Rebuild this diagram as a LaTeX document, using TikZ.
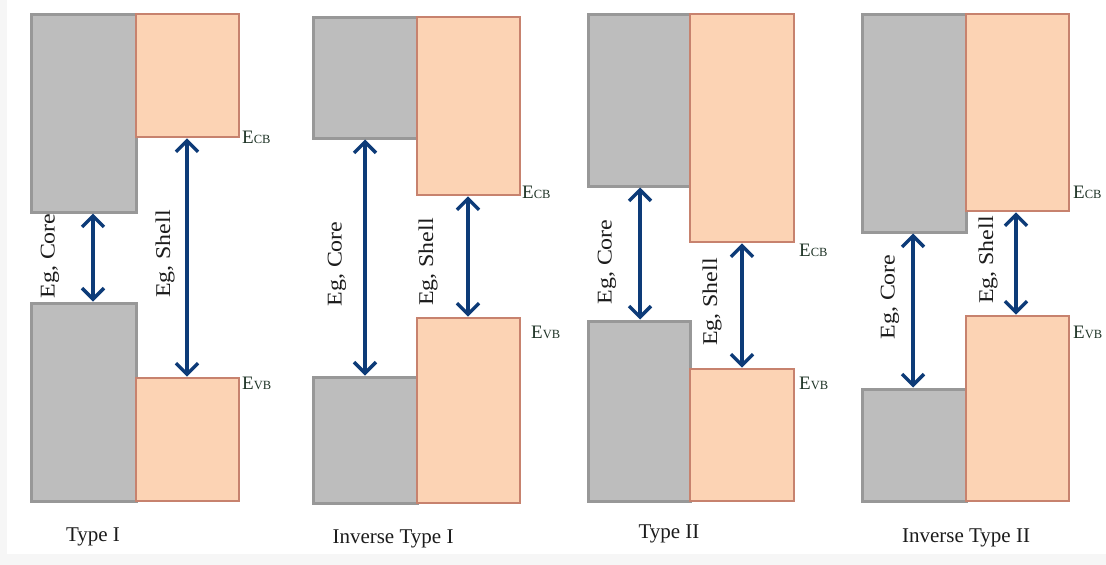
\documentclass[tikz,border=0pt]{standalone}
\usepackage{fontspec}
\setmainfont{Liberation Serif}
\usetikzlibrary{arrows.meta,fit}

\definecolor{coregray}{HTML}{BDBDBD}
\definecolor{coreedge}{HTML}{989898}
\definecolor{shellfill}{HTML}{FCD3B4}
\definecolor{shelledge}{HTML}{C7826E}
\definecolor{gaparrow}{HTML}{0D3B78}
\definecolor{textdark}{HTML}{1C1C1C}
\definecolor{leveltext}{HTML}{1E3326}

\tikzset{
  corebox/.style={draw=coreedge, fill=coregray, line width=3pt, inner sep=0pt},
  shellbox/.style={draw=shelledge, fill=shellfill, line width=2.8pt, inner sep=0pt},
  gap/.style={draw=gaparrow, line width=3.4pt,
    {Straight Barb[length=11pt,width=22pt,line width=3.4pt]}-{Straight Barb[length=11pt,width=22pt,line width=3.4pt]}},
  gaplabel/.style={rotate=90, text=textdark, inner sep=0pt,
    font=\fontsize{21}{23}\selectfont},
  level/.style={anchor=base west, text=leveltext, inner sep=0pt,
    font=\fontsize{19}{21}\selectfont},
  typelabel/.style={anchor=base, text=textdark, inner sep=0pt,
    font=\fontsize{21}{24}\selectfont}
}
\newcommand{\lvl}[1]{E{\fontsize{12.5}{14}\selectfont #1}}
\newcommand{\stretched}[1]{\scalebox{1.14}[1]{#1}}

\begin{document}
\begin{tikzpicture}[x=1pt,y=-1pt]
  \useasboundingbox (0,0) rectangle (1106,565);
  \fill[gray!7] (0,0) rectangle (1106,565);
  \fill[white] (7,0) rectangle (1106,554);

  % ---- Type I ----
  \node[corebox, fit={(31,14) (136,212)}] (c1t) {};
  \node[corebox, fit={(31,303) (136,501)}] (c1b) {};
  \node[shellbox, fit={(136,14) (239,137)}] (s1t) {};
  \node[shellbox, fit={(136,378) (239,501)}] (s1b) {};
  \coordinate (k1) at (93,0);
  \coordinate (h1) at (187,0);
  \draw[gap] (c1t.south -| k1) -- (c1b.north -| k1);
  \draw[gap] (s1t.south -| h1) -- (s1b.north -| h1);
  \node[gaplabel] (lc1) at (50,256) {\stretched{Eg, Core}};
  \node[gaplabel] (ls1) at (165,254) {\stretched{Eg, Shell}};
  \node[level] (e1c) at (242,143) {\lvl{CB}};
  \node[level] (e1v) at (242,389) {\lvl{VB}};
  \node[typelabel] (t1) at (93,541) {Type I};

  % ---- Inverse Type I ----
  \node[corebox, fit={(313,17) (417,138)}] (c2t) {};
  \node[corebox, fit={(313,377) (417,503)}] (c2b) {};
  \node[shellbox, fit={(417,17) (520,195)}] (s2t) {};
  \node[shellbox, fit={(417,318) (520,503)}] (s2b) {};
  \coordinate (k2) at (365,0);
  \coordinate (h2) at (468,0);
  \draw[gap] (c2t.south -| k2) -- (c2b.north -| k2);
  \draw[gap] (s2t.south -| h2) -- (s2b.north -| h2);
  \node[gaplabel] (lc2) at (337,264) {\stretched{Eg, Core}};
  \node[gaplabel] (ls2) at (428,262) {\stretched{Eg, Shell}};
  \node[level] (e2c) at (522,198) {\lvl{CB}};
  \node[level] (e2v) at (531,338) {\lvl{VB}};
  \node[typelabel] (t2) at (393,543) {Inverse Type I};

  % ---- Type II ----
  \node[corebox, fit={(588,14) (690,186)}] (c3t) {};
  \node[corebox, fit={(588,321) (690,501)}] (c3b) {};
  \node[shellbox, fit={(690,14) (794,242)}] (s3t) {};
  \node[shellbox, fit={(690,369) (794,501)}] (s3b) {};
  \coordinate (k3) at (640,0);
  \coordinate (h3) at (742,0);
  \draw[gap] (c3t.south -| k3) -- (c3b.north -| k3);
  \draw[gap] (s3t.south -| h3) -- (s3b.north -| h3);
  \node[gaplabel] (lc3) at (607,262) {\stretched{Eg, Core}};
  \node[gaplabel] (ls3) at (712,302) {\stretched{Eg, Shell}};
  \node[level] (e3c) at (799,256) {\lvl{CB}};
  \node[level] (e3v) at (799,389) {\lvl{VB}};
  \node[typelabel] (t3) at (669,538) {Type II};

  % ---- Inverse Type II ----
  \node[corebox, fit={(862,14) (966,232)}] (c4t) {};
  \node[corebox, fit={(862,389) (966,501)}] (c4b) {};
  \node[shellbox, fit={(966,14) (1069,211)}] (s4t) {};
  \node[shellbox, fit={(966,316) (1069,501)}] (s4b) {};
  \coordinate (k4) at (913,0);
  \coordinate (h4) at (1016,0);
  \draw[gap] (c4t.south -| k4) -- (c4b.north -| k4);
  \draw[gap] (s4t.south -| h4) -- (s4b.north -| h4);
  \node[gaplabel] (lc4) at (890,297) {\stretched{Eg, Core}};
  \node[gaplabel] (ls4) at (988,260) {\stretched{Eg, Shell}};
  \node[level] (e4c) at (1073,198) {\lvl{CB}};
  \node[level] (e4v) at (1073,338) {\lvl{VB}};
  \node[typelabel] (t4) at (966,542) {Inverse Type II};
\end{tikzpicture}
\end{document}
